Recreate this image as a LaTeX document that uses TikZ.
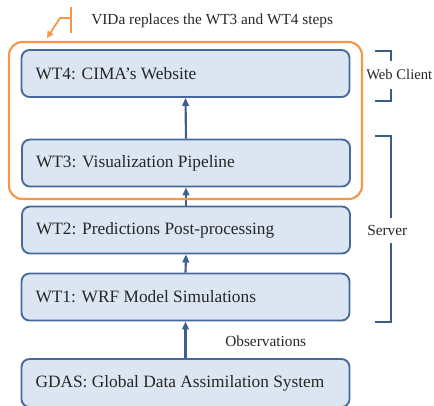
\documentclass[tikz,border=0pt]{standalone}
\usepackage{fontspec}
\setmainfont{Liberation Serif}
\usetikzlibrary{arrows.meta}
\definecolor{boxfill}{RGB}{220,230,242}
\definecolor{boxline}{RGB}{70,105,155}
\definecolor{arrowcol}{RGB}{62,96,145}
\definecolor{vidaorange}{RGB}{247,150,70}
\definecolor{bracketcol}{RGB}{56,93,138}
\newcommand{\lbox}[1]{\makebox[225pt][l]{#1}}
\tikzset{
  stagebox/.style={draw=boxline, fill=boxfill, line width=1.4pt, rounded corners=6pt,
    inner xsep=10.5pt, inner ysep=0pt,
    minimum height=35.25pt, font=\fontsize{13}{15}\selectfont, text=black!85},
  flow/.style={draw=arrowcol, line width=1.6pt, -{Triangle[length=6pt,width=5pt]}},
  vidabox/.style={draw=vidaorange, line width=1.6pt, rounded corners=10pt},
  callout/.style={draw=vidaorange, line width=1.3pt},
  bracket/.style={draw=bracketcol, line width=1.5pt},
  note/.style={font=\fontsize{11.5}{13}\selectfont, anchor=west, inner sep=0pt, text=black!85}
}
\begin{document}
\begin{tikzpicture}[x=0.75pt, y=-0.75pt]
\clip (0,0) rectangle (434,405);
% stages
\node[stagebox] (wt4) at (185.5,73.5) {\lbox{WT4: CIMA's Website}};
\node[stagebox] (wt3) at (186,163) {\lbox{WT3: Visualization Pipeline}};
\node[stagebox] (wt2) at (186,230) {\lbox{WT2: Predictions Post-processing}};
\node[stagebox] (wt1) at (185.5,297) {\lbox{WT1: WRF Model Simulations}};
\node[stagebox, minimum height=36pt] (gdas) at (185.5,383) {\lbox{GDAS: Global Data Assimilation System}};
% flows
\draw[flow] (gdas.north) -- (wt1.south);
\draw[flow] (wt1.north) -- (wt2.south);
\draw[flow] (wt2.north) -- (wt3.south);
\draw[flow] (wt3.north) -- (wt4.south);
\node[note] (obs) at (225,341) {Observations};
% VIDa box and callout
\draw[vidabox] (9,42) rectangle (362,199);
\coordinate (cTop) at (71,7);
\coordinate (cBot) at (71,33);
\coordinate (cMid) at (71,18);
\coordinate (cBend) at (60,18);
\coordinate (cTip) at (47,38);
\draw[callout] (cTop) -- (cBot);
\draw[callout, -{Triangle[length=5pt,width=5pt]}] (cMid) -- (cBend) -- (cTip);
\node[note] (vidatext) at (91,21) {VIDa replaces the WT3 and WT4 steps};
% brackets
\node[note, font=\fontsize{11}{13}\selectfont] (web) at (366,75) {Web Client};
\draw[bracket] (375,51) -- (391,51) -- (391,61);
\draw[bracket] (391,89) -- (391,101) -- (375,101);
\node[note] (server) at (367,230) {Server};
\draw[bracket] (375,136) -- (391,136) -- (391,218);
\draw[bracket] (391,243) -- (391,322) -- (375,322);
\end{tikzpicture}
\end{document}
